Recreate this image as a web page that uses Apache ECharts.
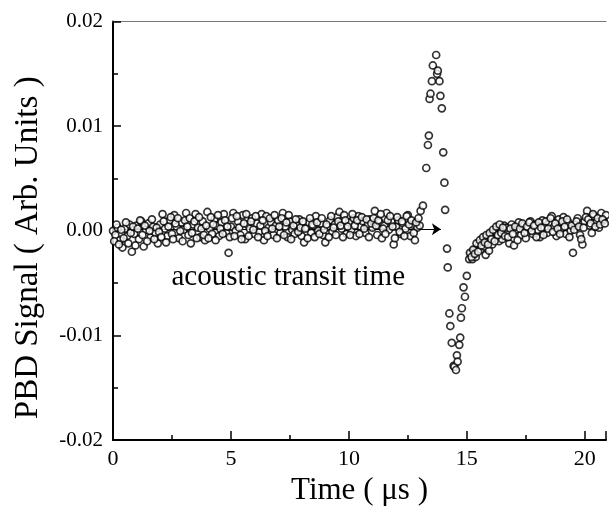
<!DOCTYPE html>
<html>
<head>
<meta charset="utf-8">
<script src="https://cdn.jsdelivr.net/npm/echarts@6/dist/echarts.min.js"></script>
<style>
html,body{margin:0;padding:0;background:#fff;}
#chart{width:609px;height:511px;}
</style>
</head>
<body>
<div id="chart"></div>
<script>
// Time (µs) and PBD signal (arb. units)
const baselineBefore = [
[0.0,0.0000],[0.1,-0.0004],[0.2,0.0003],[0.3,-0.0009],[0.4,-0.0016],[0.5,0.0002],[0.6,-0.0005],[0.7,0.0006],[0.8,-0.0020],[0.9,-0.0003],
[1.0,0.0005],[1.1,-0.0008],[1.2,0.0009],[1.3,-0.0015],[1.4,0.0001],[1.5,0.0007],[1.6,-0.0006],[1.7,0.0004],[1.8,-0.0002],[1.9,-0.0012],
[2.0,0.0006],[2.1,0.0016],[2.2,0.0002],[2.3,-0.0005],[2.4,0.0010],[2.5,-0.0003],[2.6,0.0015],[2.7,0.0004],[2.8,-0.0007],[2.9,0.0008],
[3.0,0.0001],[3.1,0.0017],[3.2,-0.0004],[3.3,-0.0012],[3.4,0.0006],[3.5,0.0016],[3.6,0.0003],[3.7,-0.0006],[3.8,0.0009],[3.9,-0.0009],
[4.0,0.0018],[4.1,0.0002],[4.2,-0.0003],[4.3,0.0011],[4.4,0.0005],[4.5,-0.0005],[4.6,0.0008],[4.7,0.0016],[4.8,-0.0002],[4.9,-0.0021],
[5.0,0.0004],[5.1,0.0017],[5.2,0.0000],[5.3,0.0009],[5.4,-0.0004],[5.5,0.0015],[5.6,-0.0008],[5.7,0.0006],[5.8,0.0002],[5.9,0.0012],
[6.0,-0.0003],[6.1,0.0007],[6.2,-0.0001],[6.3,0.0016],[6.4,-0.0009],[6.5,0.0014],[6.6,0.0003],[6.7,0.0008],[6.8,-0.0004],[6.9,0.0005],
[7.0,0.0010],[7.1,-0.0002],[7.2,0.0017],[7.3,0.0004],[7.4,-0.0006],[7.5,0.0009],[7.6,0.0001],[7.7,-0.0003],[7.8,0.0006],[7.9,0.0011],
[8.0,-0.0005],[8.1,-0.0011],[8.2,0.0003],[8.3,0.0008],[8.4,-0.0002],[8.5,0.0005],[8.6,0.0014],[8.7,0.0000],[8.8,0.0007],[8.9,-0.0004],
[9.0,-0.0011],[9.1,0.0004],[9.2,0.0010],[9.3,-0.0001],[9.4,0.0006],[9.5,0.0013],[9.6,0.0018],[9.7,0.0002],[9.8,0.0015],[9.9,-0.0003],
[10.0,0.0008],[10.1,0.0001],[10.2,0.0012],[10.3,-0.0005],[10.4,0.0014],[10.5,0.0004],[10.6,0.0009],[10.7,-0.0002],[10.8,0.0006],[10.9,0.0011],
[11.0,0.0003],[11.1,0.0019],[11.2,-0.0004],[11.3,0.0008],[11.4,-0.0007],[11.5,0.0005],[11.6,0.0017],[11.7,0.0001],[11.8,0.0009],[11.9,-0.0013],
[12.0,0.0004],[12.1,0.0010],[12.2,-0.0003],[12.3,0.0007],[12.4,0.0002],[12.5,0.0015],[12.6,-0.0005],[12.7,0.0006],[12.8,-0.0009],[12.9,0.0003],
[13.0,0.0005]
];
const baselineBeforeMid = [
[0.05,-0.0010],[0.15,0.0006],[0.25,-0.0013],[0.35,0.0001],[0.45,-0.0007],[0.55,0.0008],[0.65,-0.0012],[0.75,-0.0002],[0.85,0.0004],[0.95,-0.0014],
[1.05,0.0002],[1.15,0.0010],[1.25,-0.0004],[1.35,0.0005],[1.45,-0.0010],[1.55,0.0000],[1.65,0.0011],[1.75,-0.0008],[1.85,0.0003],[1.95,-0.0001],
[2.05,-0.0006],[2.15,0.0009],[2.25,-0.0011],[2.35,0.0004],[2.45,0.0013],[2.55,-0.0008],[2.65,0.0007],[2.75,0.0012],[2.85,0.0000],[2.95,-0.0010],
[3.05,0.0010],[3.15,0.0004],[3.25,0.0012],[3.35,-0.0002],[3.45,0.0009],[3.55,-0.0007],[3.65,0.0013],[3.75,0.0002],[3.85,-0.0004],[3.95,0.0005],
[4.05,-0.0007],[4.15,0.0013],[4.25,0.0006],[4.35,-0.0009],[4.45,0.0015],[4.55,0.0002],[4.65,-0.0003],[4.75,0.0010],[4.85,0.0004],[4.95,-0.0006],
[5.05,0.0012],[5.15,-0.0005],[5.25,0.0014],[5.35,0.0003],[5.45,-0.0008],[5.55,0.0007],[5.65,0.0016],[5.75,-0.0005],[5.85,0.0009],[5.95,0.0001],
[6.05,0.0014],[6.15,-0.0006],[6.25,0.0005],[6.35,0.0010],[6.45,0.0000],[6.55,-0.0005],[6.65,0.0012],[6.75,0.0002],[6.85,0.0015],[6.95,-0.0007],
[7.05,0.0004],[7.15,0.0012],[7.25,-0.0004],[7.35,0.0008],[7.45,0.0015],[7.55,-0.0008],[7.65,0.0005],[7.75,0.0011],[7.85,-0.0001],[7.95,0.0003],
[8.05,0.0009],[8.15,0.0002],[8.25,-0.0007],[8.35,0.0012],[8.45,0.0006],[8.55,-0.0006],[8.65,0.0008],[8.75,-0.0003],[8.85,0.0012],[8.95,0.0001],
[9.05,0.0006],[9.15,-0.0006],[9.25,0.0014],[9.35,0.0003],[9.45,-0.0004],[9.55,0.0009],[9.65,0.0005],[9.75,-0.0006],[9.85,0.0010],[9.95,0.0004],
[10.05,-0.0004],[10.15,0.0016],[10.25,0.0005],[10.35,0.0010],[10.45,-0.0003],[10.55,0.0013],[10.65,0.0002],[10.75,0.0011],[10.85,-0.0006],[10.95,0.0007],
[11.05,0.0012],[11.15,0.0005],[11.25,0.0010],[11.35,0.0016],[11.45,0.0002],[11.55,-0.0003],[11.65,0.0010],[11.75,0.0014],[11.85,0.0004],[11.95,-0.0007],
[12.05,0.0013],[12.15,-0.0001],[12.25,0.0009],[12.35,-0.0005],[12.45,0.0014],[12.55,0.0006],[12.65,0.0010],[12.75,-0.0002],[12.85,0.0008],[12.95,0.0012]
];
const pulse = [
[13.04,0.0019],[13.14,0.0024],[13.28,0.0060],[13.35,0.0082],[13.39,0.0091],[13.42,0.0126],[13.46,0.0131],[13.52,0.0143],[13.56,0.0158],
[13.70,0.0168],[13.74,0.0150],[13.77,0.0153],[13.84,0.0143],[13.88,0.0129],[13.94,0.0117],[14.00,0.0075],[14.05,0.0046],[14.08,0.0020],
[14.16,-0.0017],[14.19,-0.0035],[14.26,-0.0079],[14.30,-0.0091],[14.36,-0.0107],[14.44,-0.0129],[14.47,-0.0130],[14.54,-0.0133],
[14.58,-0.0119],[14.61,-0.0125],[14.68,-0.0109],[14.72,-0.0102],[14.75,-0.0083],[14.79,-0.0074],[14.86,-0.0054],[14.92,-0.0063],[15.00,-0.0043]
];
const recovery = [
[15.10,-0.0027],[15.17,-0.0022],[15.24,-0.0027],[15.31,-0.0019],[15.38,-0.0025],[15.45,-0.0016],[15.52,-0.0013],[15.59,-0.0018],
[15.66,-0.0010],[15.73,-0.0015],[15.80,-0.0023],[15.87,-0.0008],[15.94,-0.0019],[16.01,-0.0005],[16.08,-0.0013],[16.15,-0.0003],
[16.22,0.0000],[16.27,-0.0006],[16.36,-0.0010],[16.43,0.0002],[16.50,-0.0008],[16.58,0.0005],
[16.7,0.0003],[16.8,-0.0012],[16.9,0.0006],[17.0,-0.0014],[17.1,0.0001],[17.2,0.0008],[17.3,-0.0004],[17.4,0.0005],[17.5,-0.0007],
[17.6,0.0002],[17.7,0.0009],[17.8,-0.0003],[17.9,0.0006],[18.0,0.0001],[18.1,-0.0006],[18.2,0.0010],[18.3,0.0003],[18.4,-0.0002],
[18.5,0.0007],[18.6,0.0014],[18.7,0.0004],[18.8,-0.0005],[18.9,0.0011],[19.0,0.0002],[19.1,0.0013],[19.2,-0.0003],[19.3,0.0008],
[19.4,0.0000],[19.5,-0.0021],[19.6,0.0006],[19.7,0.0012],[19.8,-0.0004],[19.9,-0.0013],[20.0,0.0009],[20.1,0.0019],[20.2,0.0005],
[20.3,-0.0002],[20.4,0.0014],[20.5,0.0008],[20.6,0.0003],[20.7,0.0017],[20.8,0.0010],[20.9,0.0015]
];
const recoveryMid = [
[15.13,-0.0021],[15.20,-0.0025],[15.27,-0.0018],[15.34,-0.0022],[15.41,-0.0012],[15.48,-0.0020],[15.55,-0.0009],[15.62,-0.0014],
[15.69,-0.0006],[15.76,-0.0011],[15.83,-0.0004],[15.90,-0.0013],[15.97,-0.0002],[16.04,-0.0008],[16.11,0.0001],[16.18,-0.0010],
[16.25,0.0004],[16.32,-0.0004],[16.39,0.0006],[16.46,-0.0002],[16.53,0.0003],[16.62,-0.0005],
[16.75,-0.0006],[16.85,0.0002],[16.95,-0.0003],[17.05,0.0004],[17.15,-0.0009],[17.25,0.0002],[17.35,0.0007],[17.45,-0.0002],
[17.55,0.0004],[17.65,0.0008],[17.75,0.0000],[17.85,0.0005],[17.95,-0.0006],[18.05,0.0008],[18.15,0.0003],[18.25,-0.0004],
[18.35,0.0009],[18.45,0.0002],[18.55,0.0012],[18.65,-0.0001],[18.75,0.0007],[18.85,0.0002],[18.95,-0.0003],[19.05,0.0009],
[19.15,0.0004],[19.25,0.0011],[19.35,-0.0006],[19.45,0.0005],[19.55,0.0001],[19.65,0.0009],[19.75,0.0004],[19.85,-0.0008],
[19.95,0.0003],[20.05,0.0013],[20.15,0.0011],[20.25,0.0007],[20.35,0.0016],[20.45,0.0004],[20.55,0.0012],[20.65,0.0006],
[20.75,0.0011],[20.85,0.0007]
];
// arrow marking the acoustic transit time: start and end (time, signal)
const arrowStart = [0.0, 0.00016];
const arrowEnd = [13.9, 0.00016];
const annotationText = 'acoustic transit time';
const annotationAt = [2.48, -0.0040];
const xTitle = 'Time ( \u03bcs )';
const yTitle = 'PBD Signal ( Arb. Units )';
const xMin = 0, xMax = 20.9, xMajor = 5, xMinor = 2.5;
const yMin = -0.02, yMax = 0.02, yMajor = 0.01, yMinor = 0.005;

const FONT = 'Liberation Serif';
const chart = echarts.init(document.getElementById('chart'), null, {renderer:'canvas'});

function isMultiple(v, step){ const r = v/step; return Math.abs(r - Math.round(r)) < 1e-6; }

const option = {
  animation: false,
  backgroundColor: '#fff',
  grid: {left: 113, right: 0, top: 21.5, bottom: 62},
  xAxis: [
    {type:'value', min:xMin, max:xMax, interval:xMinor, position:'bottom',
     axisLine:{show:true, onZero:false, lineStyle:{color:'#000', width:2}},
     axisTick:{show:true, inside:true, length:5, lineStyle:{color:'#000', width:1.5}},
     axisLabel:{show:true, margin:8, color:'#000', fontFamily:FONT, fontSize:22,
       formatter: v => isMultiple(v, xMajor) ? String(v) : ''},
     splitLine:{show:false},
     name: xTitle, nameLocation:'middle', nameGap:30,
     nameTextStyle:{color:'#000', fontFamily:FONT, fontSize:31}},
    {type:'value', min:xMin, max:xMax, interval:xMajor, position:'bottom', offset:0,
     axisLine:{show:false, onZero:false},
     axisTick:{show:true, inside:true, length:9, lineStyle:{color:'#000', width:1.5}},
     axisLabel:{show:false}, splitLine:{show:false}},
    {type:'value', min:xMin, max:xMax, position:'top',
     axisLine:{show:true, onZero:false, lineStyle:{color:'#777', width:1.2}},
     axisTick:{show:false}, axisLabel:{show:false}, splitLine:{show:false}}
  ],
  yAxis: [
    {type:'value', min:yMin, max:yMax, interval:yMinor, position:'left',
     axisLine:{show:true, onZero:false, lineStyle:{color:'#000', width:2}},
     axisTick:{show:true, inside:true, length:5, lineStyle:{color:'#000', width:1.5}},
     axisLabel:{show:true, margin:10, color:'#000', fontFamily:FONT, fontSize:21,
       formatter: v => isMultiple(v, yMajor) ? v.toFixed(2) : ''},
     splitLine:{show:false},
     name: yTitle, nameLocation:'middle', nameGap:68,
     nameTextStyle:{color:'#000', fontFamily:FONT, fontSize:33, padding:[0,34,0,0]}},
    {type:'value', min:yMin, max:yMax, interval:yMajor, position:'left', offset:0,
     axisLine:{show:false, onZero:false},
     axisTick:{show:true, inside:true, length:8, lineStyle:{color:'#000', width:1.5}},
     axisLabel:{show:false}, splitLine:{show:false}}
  ],
  series: [
    {type:'lines', coordinateSystem:'cartesian2d', xAxisIndex:0, yAxisIndex:0, z:1,
     symbol:['none','arrow'], symbolSize:9,
     lineStyle:{color:'#000', width:1.2, opacity:1},
     data:[{coords:[arrowStart, arrowEnd]}]},
    {type:'scatter', xAxisIndex:0, yAxisIndex:0, z:3, symbol:'circle', symbolSize:7,
     itemStyle:{color:'#fff', borderColor:'#000', borderWidth:1.7},
     data: baselineBefore.concat(baselineBeforeMid, pulse, recovery, recoveryMid)}
  ]
};
chart.setOption(option);

const p = chart.convertToPixel({xAxisIndex:0, yAxisIndex:0}, annotationAt);
chart.setOption({
  graphic:[{type:'text', left:p[0], top:p[1]-10, z:10,
    style:{text:annotationText, fill:'#000', font:'29px "Liberation Serif"'}}]
});
</script>
</body>
</html>
